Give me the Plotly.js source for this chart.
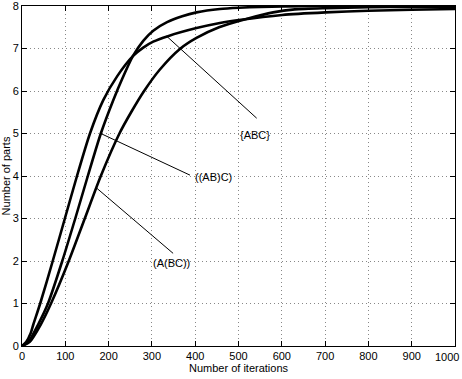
<!DOCTYPE html>
<html>
<head>
<meta charset="utf-8">
<script src="https://cdn.plot.ly/plotly-3.0.1.min.js"></script>
<style>html,body{margin:0;padding:0;background:#fff;}#chart{width:462px;height:379px;}</style>
</head>
<body>
<div id="chart"></div>
<script>
// Curve data
const xABC = [0, 10, 20, 26, 42, 71, 99, 127, 157, 188, 220, 256, 280, 303, 337, 403, 457, 501, 601, 701, 800, 900, 1000];
const yABC = [0, 0.1, 0.3, 0.5, 1, 2, 3, 4, 5, 5.79, 6.35, 6.82, 7.02, 7.16, 7.29, 7.48, 7.6, 7.67, 7.79, 7.85, 7.89, 7.91, 7.93];

const xABC2 = [0, 15, 37, 60, 93, 123, 152, 182, 211, 232, 256, 280, 303, 335, 370, 403, 457, 501, 550, 601, 701, 1000];
const yABC2 = [0, 0.1, 0.5, 1, 2, 3, 4, 5, 5.79, 6.3, 6.82, 7.18, 7.42, 7.62, 7.76, 7.85, 7.93, 7.96, 7.98, 7.99, 8.0, 8.0];

const xABC3 = [0, 18, 43, 67, 108, 145, 182, 225, 252, 282, 318, 366, 403, 455, 520, 580, 630, 700, 800, 900, 1000];
const yABC3 = [0, 0.1, 0.5, 1, 2, 3, 4, 5, 5.5, 6, 6.5, 7, 7.25, 7.5, 7.7, 7.85, 7.92, 7.95, 7.97, 7.98, 7.98];

// Leader lines (from curve to label)
const leadABCx = [334, 542];   const leadABCy = [7.29, 5.36];
const leadAB_Cx = [182, 388];  const leadAB_Cy = [5.0, 4.02];
const leadA_BCx = [173, 349];  const leadA_BCy = [3.71, 2.18];

// Labels
const labelText = ['{ABC}', '((AB)C)', '(A(BC))'];
const labelX = [538, 443, 345];
const labelY = [4.96, 3.98, 1.95];

const xTickVals = [0, 100, 200, 300, 400, 500, 600, 700, 800, 900, 1000];
const xTickText = ['0', '100', '200', '300', '400', '500', '600', '700', '800', '900', ''];
const lastXTickText = '1000';
const yTickVals = [0, 1, 2, 3, 4, 5, 6, 7, 8];

const curveStyle = {color: '#000', width: 2.6, shape: 'spline', smoothing: 0.7};
const leadStyle = {color: '#000', width: 1};

const traces = [
  {x: xABC, y: yABC, mode: 'lines', line: curveStyle, hoverinfo: 'skip'},
  {x: xABC2, y: yABC2, mode: 'lines', line: curveStyle, hoverinfo: 'skip'},
  {x: xABC3, y: yABC3, mode: 'lines', line: curveStyle, hoverinfo: 'skip'},
  {x: leadABCx, y: leadABCy, mode: 'lines', line: leadStyle, hoverinfo: 'skip'},
  {x: leadAB_Cx, y: leadAB_Cy, mode: 'lines', line: leadStyle, hoverinfo: 'skip'},
  {x: leadA_BCx, y: leadA_BCy, mode: 'lines', line: leadStyle, hoverinfo: 'skip'}
];

const fontFam = 'Liberation Sans, Arial, Helvetica, sans-serif';
const txtFont = {family: fontFam, size: 11, color: '#000'};

const axisCommon = {
  showline: true, linecolor: '#000', linewidth: 1, mirror: 'ticks',
  ticks: 'inside', ticklen: 5, tickwidth: 1, tickcolor: '#000',
  showgrid: true, gridcolor: '#888', gridwidth: 1, griddash: '1px,3px',
  zeroline: false, tickfont: txtFont,
  ticklabeloverflow: 'allow', automargin: false
};

const annotations = labelText.map((t, i) => ({
  x: labelX[i], y: labelY[i], xref: 'x', yref: 'y', text: t, showarrow: false, font: txtFont
}));
// last x tick label kept inside the page edge
annotations.push({
  x: 1, y: 0, xref: 'paper', yref: 'paper', xanchor: 'right', yanchor: 'top',
  xshift: 6, yshift: -3, text: lastXTickText, showarrow: false, font: txtFont
});

const layout = {
  width: 462, height: 379,
  margin: {l: 22, r: 7, t: 6, b: 33},
  paper_bgcolor: '#fff', plot_bgcolor: '#fff',
  showlegend: false,
  xaxis: Object.assign({}, axisCommon, {
    range: [0, 1000], tickvals: xTickVals, ticktext: xTickText,
    title: {text: 'Number of iterations', font: txtFont, standoff: 2}
  }),
  yaxis: Object.assign({}, axisCommon, {
    range: [0, 8], tickvals: yTickVals, ticktext: yTickVals.map(String),
    title: {text: 'Number of parts', font: txtFont, standoff: 2}
  }),
  annotations: annotations
};

Plotly.newPlot('chart', traces, layout, {staticPlot: true, displayModeBar: false});
</script>
</body>
</html>
